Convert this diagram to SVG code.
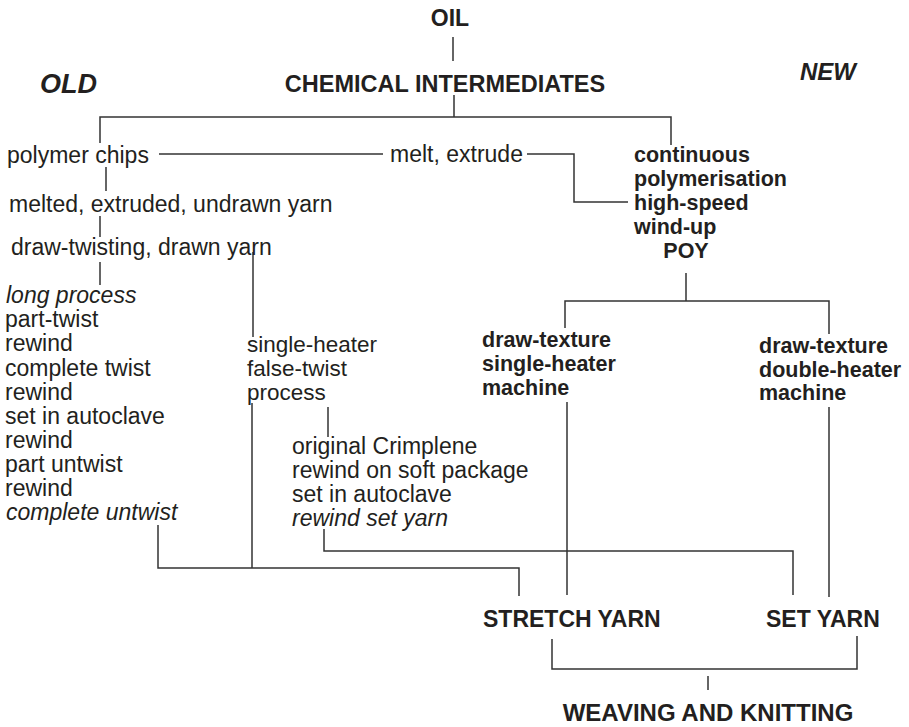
<svg xmlns="http://www.w3.org/2000/svg" width="909" height="727" viewBox="0 0 909 727">
<style>
text{font-family:"Liberation Sans",Arial,Helvetica,sans-serif;fill:#231f20}
.r{font-size:23px}
.i{font-size:23px;font-style:italic}
.b{font-size:21.5px;font-weight:bold}
.h{font-size:23px;font-weight:bold}
.hi{font-size:27px;font-weight:bold;font-style:italic}
.m{text-anchor:middle}
#connectors path{fill:none;stroke:#333;stroke-width:1.5}
</style>
<rect width="909" height="727" fill="#fff"/>
<g id="connectors">
<path d="M453 37V61"/>
<path d="M454 95V117M100 143V117H671V145"/>
<path d="M159 154H383"/>
<path d="M527 154H574V202H628"/>
<path d="M106 167V191"/>
<path d="M100 216V237"/>
<path d="M100 262V285"/>
<path d="M253 252V337"/>
<path d="M328 407V437"/>
<path d="M252 403V568"/>
<path d="M158 525V568H519V596"/>
<path d="M324 529V551H793V595"/>
<path d="M686 273V301M565 328V301H829V334"/>
<path d="M567 402V595"/>
<path d="M829 407V597"/>
<path d="M552 639V669H857V636"/>
<path d="M708 676V690"/>
</g>
<g id="oil"><text class="h m" x="450" y="26">OIL</text></g>
<g id="chem"><text class="h m" x="445" y="92" style="font-size:23.5px">CHEMICAL INTERMEDIATES</text></g>
<g id="old"><text class="hi" x="40" y="93">OLD</text></g>
<g id="new"><text class="hi" x="800" y="80" style="font-size:24px">NEW</text></g>
<g id="polymer-chips"><text class="r" x="7" y="163">polymer chips</text></g>
<g id="melt-extrude"><text class="r" x="390" y="162">melt, extrude</text></g>
<g id="continuous">
<text class="b" x="634" y="162">continuous</text>
<text class="b" x="634" y="186">polymerisation</text>
<text class="b" x="634" y="210">high-speed</text>
<text class="b" x="634" y="234">wind-up</text>
<text class="b m" x="686" y="258">POY</text>
</g>
<g id="melted"><text class="r" x="9" y="212">melted, extruded, undrawn yarn</text></g>
<g id="draw-twisting"><text class="r" x="11" y="255">draw-twisting, drawn yarn</text></g>
<g id="long-process">
<text class="i" x="6" y="303">long process</text>
<text class="r" x="5" y="327">part-twist</text>
<text class="r" x="5" y="351">rewind</text>
<text class="r" x="5" y="375.5">complete twist</text>
<text class="r" x="5" y="400">rewind</text>
<text class="r" x="5" y="424">set in autoclave</text>
<text class="r" x="5" y="448">rewind</text>
<text class="r" x="5" y="472">part untwist</text>
<text class="r" x="5" y="496">rewind</text>
<text class="i" x="6" y="520">complete untwist</text>
</g>
<g id="single-heater" style="font-size:22.5px">
<text x="247" y="352">single-heater</text>
<text x="247" y="376">false-twist</text>
<text x="247" y="400">process</text>
</g>
<g id="crimplene">
<text class="r" x="292" y="454">original Crimplene</text>
<text class="r" x="292" y="478">rewind on soft package</text>
<text class="r" x="292" y="502">set in autoclave</text>
<text class="i" x="292" y="526">rewind set yarn</text>
</g>
<g id="draw-texture-single">
<text class="b" x="482" y="347">draw-texture</text>
<text class="b" x="482" y="371">single-heater</text>
<text class="b" x="482" y="395">machine</text>
</g>
<g id="draw-texture-double">
<text class="b" x="759" y="353">draw-texture</text>
<text class="b" x="759" y="377">double-heater</text>
<text class="b" x="759" y="400">machine</text>
</g>
<g id="stretch-yarn"><text class="h" x="483" y="627">STRETCH YARN</text></g>
<g id="set-yarn"><text class="h" x="766" y="627">SET YARN</text></g>
<g id="weaving"><text class="h m" x="708" y="721" style="font-size:24px">WEAVING AND KNITTING</text></g>
</svg>
